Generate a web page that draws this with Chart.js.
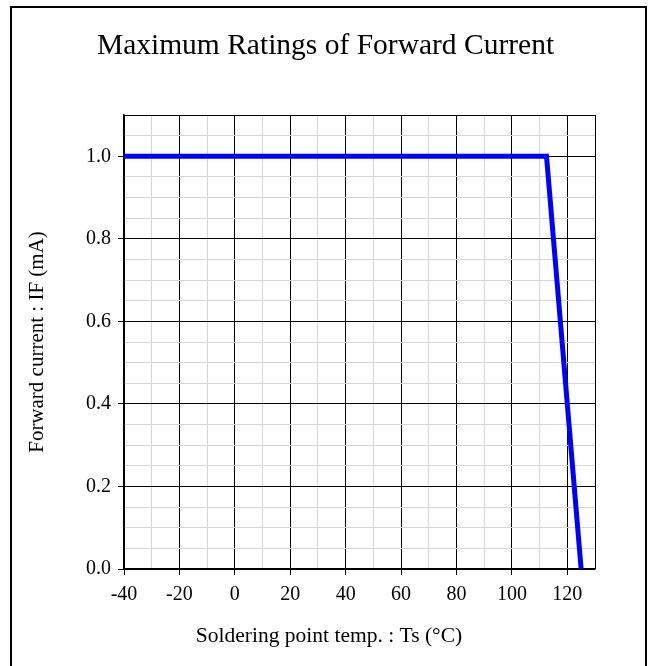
<!DOCTYPE html>
<html>
<head>
<meta charset="utf-8">
<script src="https://cdn.jsdelivr.net/npm/chart.js@4"></script>
<style>
  html, body { margin: 0; padding: 0; background: #fff; }
  #wrap { width: 651px; height: 666px; }
</style>
</head>
<body>
<div id="wrap"><canvas id="mycanvas" width="651" height="666"></canvas></div>
<script>
// data
var temp = [-40, 112.5, 125];
var current = [1.0, 1.0, 0.0];
var xTicks = [-40, -20, 0, 20, 40, 60, 80, 100, 120];
var yTicks = [0.0, 0.2, 0.4, 0.6, 0.8, 1.0];
var xTitle = 'Soldering point temp. : Ts (°C)';

var points = [];
for (var i in temp) {
	points.push({x: temp[i], y: current[i]});
}

function near(v, list) {
	for (var k in list) {
		if (Math.abs(v - list[k]) < 1e-6) return true;
	}
	return false;
}

var serif = "'Liberation Serif', 'DejaVu Serif', serif";

// outer frame around the whole figure + x axis title centred on the figure
var framePlugin = {
	id: 'frame',
	beforeDraw: function(chart) {
		var c = chart.ctx;
		c.save();
		c.fillStyle = '#fff';
		c.fillRect(0, 0, chart.width, chart.height);
		c.strokeStyle = '#000';
		c.lineWidth = 2;
		c.strokeRect(11, 7, 635, 700);
		c.restore();
	},
	afterDraw: function(chart) {
		var c = chart.ctx;
		c.save();
		c.fillStyle = '#000';
		c.font = '21.5px ' + serif;
		c.textAlign = 'center';
		c.textBaseline = 'middle';
		c.fillText(xTitle, 329, 636);
		c.restore();
	}
};

var ctx = document.getElementById('mycanvas');

var chart = new Chart(ctx, {
	type: 'line',
	data: {
		datasets: [{
			label: 'IF',
			data: points,
			borderColor: '#0000ff',
			backgroundColor: '#0000ff',
			borderWidth: 5,
			pointRadius: 0,
			fill: false,
			tension: 0,
			clip: false
		}]
	},
	options: {
		responsive: false,
		animation: false,
		devicePixelRatio: 1,
		layout: { padding: 0, autoPadding: false },
		plugins: {
			legend: { display: false },
			tooltip: { enabled: false },
			title: {
				display: true,
				text: 'Maximum Ratings of Forward Current',
				color: '#000',
				font: { family: serif, size: 29.5, weight: 'normal' },
				padding: { top: 28.3, bottom: 51.3 }
			}
		},
		scales: {
			x: {
				type: 'linear',
				min: -40,
				max: 130,
				afterFit: function(s) { s.height = 97; },
				afterBuildTicks: function(s) {
					var t = [];
					for (var v = -40; v <= 130; v += 10) t.push({value: v});
					s.ticks = t;
				},
				ticks: {
					autoSkip: false,
					maxRotation: 0,
					padding: 8,
					color: '#000',
					font: { family: serif, size: 20 },
					callback: function(v) { return near(v, xTicks) ? String(v) : ''; }
				},
				grid: {
					lineWidth: 1,
					tickLength: 6,
					color: function(c) {
						var v = c.tick ? c.tick.value : 0;
						return (near(v, xTicks) || v === 130) ? '#000' : '#d4d4d4';
					},
					tickColor: function(c) {
						var v = c.tick ? c.tick.value : 0;
						return near(v, xTicks) ? '#000' : 'rgba(0,0,0,0)';
					}
				},
				border: { color: '#000', width: 1.5 }
			},
			y: {
				type: 'linear',
				min: 0,
				max: 1.1,
				afterFit: function(s) { s.width = 124; },
				afterBuildTicks: function(s) {
					var t = [];
					for (var k = 0; k <= 22; k++) t.push({value: Math.round(k * 5) / 100});
					s.ticks = t;
				},
				ticks: {
					autoSkip: false,
					padding: 7,
					color: '#000',
					font: { family: serif, size: 20 },
					callback: function(v) { return near(v, yTicks) ? v.toFixed(1) : ''; }
				},
				grid: {
					lineWidth: 1,
					tickLength: 6,
					color: function(c) {
						var v = c.tick ? c.tick.value : 0;
						return (near(v, yTicks) || Math.abs(v - 1.1) < 1e-6) ? '#000' : '#d4d4d4';
					},
					tickColor: function(c) {
						var v = c.tick ? c.tick.value : 0;
						return near(v, yTicks) ? '#000' : 'rgba(0,0,0,0)';
					}
				},
				border: { color: '#000', width: 1.5 },
				title: {
					display: true,
					text: 'Forward current : IF (mA)',
					color: '#000',
					font: { family: serif, size: 21 },
					padding: { top: 25, bottom: 0 }
				}
			},
			// empty right-hand margin so the title centres on the whole figure
			margin: {
				type: 'linear',
				position: 'right',
				display: true,
				afterFit: function(s) { s.width = 56; },
				ticks: { display: false },
				grid: { display: false, drawTicks: false },
				border: { display: false }
			}
		}
	},
	plugins: [framePlugin]
});
</script>
</body>
</html>
